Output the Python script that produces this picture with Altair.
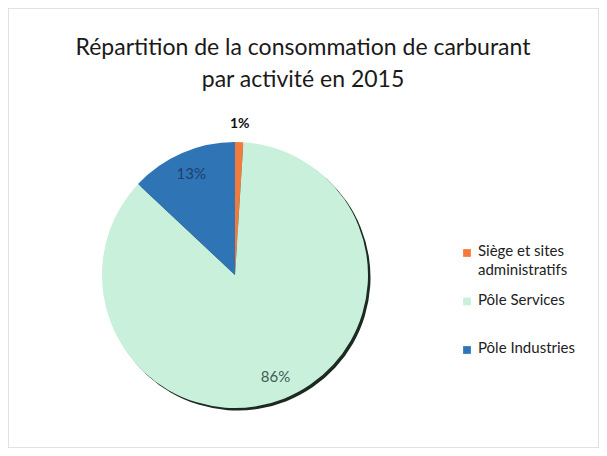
import altair as alt
import pandas as pd

title_lines = ["Répartition de la consommation de carburant", "par activité en 2015"]
categories = ["Siège et sites administratifs", "Pôle Services", "Pôle Industries"]
legend_labels = ["Siège et sites\nadministratifs", "Pôle Services", "Pôle Industries"]
values = [1, 86, 13]
pct_labels = ["1%", "86%", "13%"]
colors = ["#F47A3C", "#C9F0DA", "#2F74B5"]

df = pd.DataFrame({
    "category": categories,
    "value": values,
    "label": pct_labels,
    "legend": legend_labels,
    "idx": list(range(len(categories))),
})

FONT = "Lato"
CX, CY, R = 227, 267, 133

color_scale = alt.Scale(domain=categories, range=colors)
theta = alt.Theta("value:Q", stack=True)
order = alt.Order("idx:Q", sort="ascending")

base = alt.Chart(df)

shadow = base.mark_arc(outerRadius=R, color="#1c2a22").encode(
    theta=theta, order=order, x=alt.value(CX + 2.5), y=alt.value(CY + 2.5)
)

pie = base.mark_arc(outerRadius=R).encode(
    theta=theta,
    order=order,
    color=alt.Color("category:N", scale=color_scale, legend=None),
    x=alt.value(CX), y=alt.value(CY),
)

inner = base.transform_calculate(
    t="datum.value >= 5 ? datum.label : ''"
).mark_text(font=FONT, fontSize=15, radius=110).encode(
    theta=theta, order=order, text="t:N",
    x=alt.value(CX), y=alt.value(CY),
    color=alt.condition("datum.category == 'Pôle Industries'", alt.value("#1d3f6e"), alt.value("#3f5e55")),
)

outer = base.transform_calculate(
    t="datum.value < 5 ? datum.label : ''"
).mark_text(font=FONT, fontSize=14, fontWeight="bold", radius=151, color="#111111").encode(
    theta=theta, order=order, text="t:N",
    x=alt.value(CX), y=alt.value(CY),
)

leg_y = alt.Y("idx:Q", scale=alt.Scale(domain=[0, 2], range=[245, 342]), axis=None)

leg_sym = base.mark_square(size=60, opacity=1).encode(
    x=alt.value(459), y=leg_y,
    color=alt.Color("category:N", scale=color_scale, legend=None),
)
leg_txt = base.mark_text(
    font=FONT, fontSize=15, align="left", baseline="top", dy=-9, lineBreak="\n",
    lineHeight=19, color="#222222",
).encode(x=alt.value(470), y=leg_y, text="legend:N")

tdf = pd.DataFrame({"t": title_lines, "i": [0, 1]})
title = alt.Chart(tdf).mark_text(
    font=FONT, fontSize=23, color="#1a1a1a", align="center", baseline="middle"
).encode(
    x=alt.value(295),
    y=alt.Y("i:Q", scale=alt.Scale(domain=[0, 1], range=[40, 72]), axis=None),
    text="t:N",
)

chart = alt.layer(shadow, pie, inner, outer, leg_sym, leg_txt, title).resolve_scale(
    y="independent"
).properties(
    width=591, height=440, padding=0, autosize="none", background="white"
).configure_view(stroke="#d8d8d8", strokeWidth=1.5)

chart.save("out.html", embed_options={"renderer": "svg", "actions": False})
